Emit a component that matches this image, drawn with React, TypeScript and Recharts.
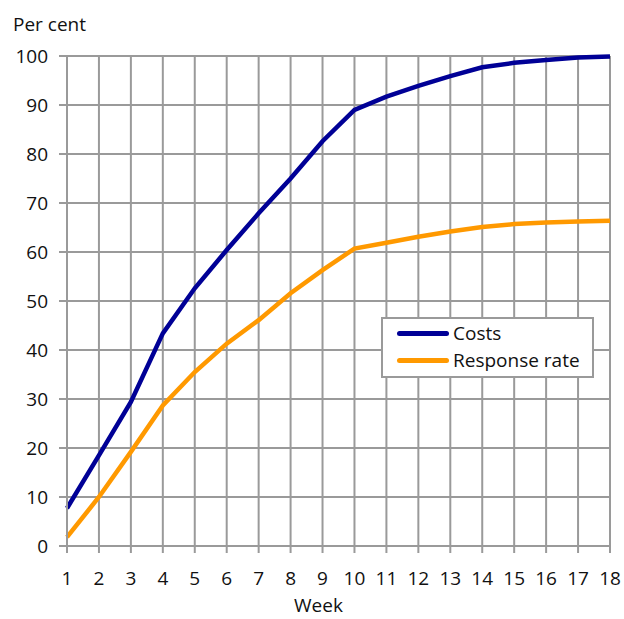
import React from 'react';
import { LineChart, Line, XAxis, YAxis, CartesianGrid, Legend } from 'recharts';

// Cumulative share (per cent) by week of fieldwork
const weeks = [1, 2, 3, 4, 5, 6, 7, 8, 9, 10, 11, 12, 13, 14, 15, 16, 17, 18];
const costs = [7.7, 18.5, 29.4, 43.4, 52.6, 60.4, 67.9, 75.0, 82.6, 89.0, 91.7, 93.9, 95.9, 97.7, 98.6, 99.2, 99.7, 99.9];
const responseRate = [1.8, 10.0, 19.2, 28.7, 35.5, 41.3, 46.1, 51.6, 56.3, 60.7, 61.9, 63.1, 64.2, 65.1, 65.7, 66.0, 66.2, 66.4];
const yTicks = [0, 10, 20, 30, 40, 50, 60, 70, 80, 90, 100];

const data = weeks.map((w, i) => ({ week: w, costs: costs[i], response: responseRate[i] }));

const GRID = '#9a9a9a';
const TEXT = '#111';
const FONT = 19;

const LegendBox = (props: any) => {
  const { payload } = props;
  return (
    <div
      style={{
        border: `2px solid ${GRID}`,
        background: '#fff',
        width: 213,
        height: 61,
        boxSizing: 'border-box',
        paddingTop: 1,
      }}
    >
      {payload.map((p: any) => (
        <div key={p.value} style={{ display: 'flex', alignItems: 'center', height: 27, fontSize: FONT, color: TEXT }}>
          <span
            style={{
              display: 'inline-block',
              width: 52,
              height: 5,
              borderRadius: 3,
              background: p.color,
              marginLeft: 14,
              marginRight: 4,
            }}
          />
          <span style={{ lineHeight: '27px' }}>{p.value}</span>
        </div>
      ))}
    </div>
  );
};

export default function App() {
  return (
    <div
      style={{
        position: 'absolute',
        left: 0,
        top: 0,
        width: 624,
        height: 619,
        background: '#fff',
        fontFamily: '"Open Sans", sans-serif',
        color: TEXT,
      }}
    >
      <div style={{ position: 'absolute', left: 13, top: 15, fontSize: FONT, lineHeight: '19px' }}>Per cent</div>
      <div style={{ position: 'absolute', left: 294, top: 594, fontSize: FONT, lineHeight: '22px' }}>Week</div>
      <LineChart width={624} height={619} data={data} margin={{ top: 56, right: 14, left: 0, bottom: 0 }}>
        <CartesianGrid stroke={GRID} strokeWidth={2} />
        <XAxis
          dataKey="week"
          type="number"
          domain={[1, 18]}
          ticks={weeks}
          interval={0}
          height={73}
          tickSize={7}
          tickMargin={19}
          stroke={GRID}
          strokeWidth={2}
          tick={{ fill: TEXT, fontSize: FONT }}
        />
        <YAxis
          type="number"
          domain={[0, 100]}
          ticks={yTicks}
          interval={0}
          width={67}
          tickSize={8}
          tickMargin={11}
          stroke={GRID}
          strokeWidth={2}
          tick={{ fill: TEXT, fontSize: FONT }}
        />
        <Legend
          layout="vertical"
          align="center"
          verticalAlign="middle"
          content={<LegendBox />}
          wrapperStyle={{ left: 381, top: 317, width: 213, height: 61 }}
        />
        <Line
          type="linear"
          dataKey="costs"
          name="Costs"
          stroke="#000096"
          strokeWidth={4.5}
          dot={false}
          isAnimationActive={false}
        />
        <Line
          type="linear"
          dataKey="response"
          name="Response rate"
          stroke="#ff9900"
          strokeWidth={4.5}
          dot={false}
          isAnimationActive={false}
        />
      </LineChart>
    </div>
  );
}
